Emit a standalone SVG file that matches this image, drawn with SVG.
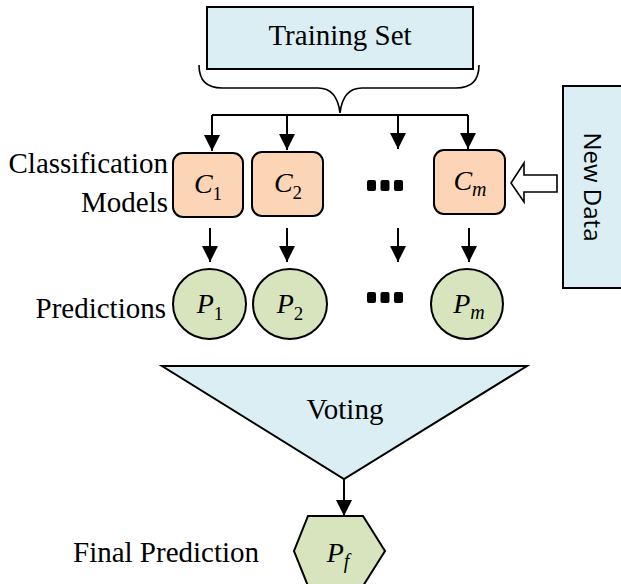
<svg xmlns="http://www.w3.org/2000/svg" width="621" height="584" viewBox="0 0 621 584">
<defs>
<style>
.lbl{font-family:'Liberation Serif','Tinos','Times New Roman','Times','DejaVu Serif','Noto Serif',serif;font-size:29px;fill:#000}
.math{font-family:'Liberation Serif','Tinos','Times New Roman','Times','DejaVu Serif','Noto Serif',serif;font-size:28px;font-style:italic;fill:#000}
.sub{font-size:19px;font-style:normal}
.subi{font-size:20px;font-style:italic}
.blue{fill:#DBEEF4;stroke:#000;stroke-width:2}
.peach{fill:#FBD5B5;stroke:#000;stroke-width:2}
.green{fill:#D7E4BD;stroke:#000;stroke-width:2}
.ln{fill:none;stroke:#000;stroke-width:2}
.dot{fill:#000}
</style>
<marker id="ah" markerUnits="userSpaceOnUse" markerWidth="16" markerHeight="18" refX="16" refY="8" orient="auto" viewBox="0 0 16 16">
<path d="M0,0 L16,8 L0,16 Z" fill="#000"/>
</marker>
</defs>

<g id="training-set">
<rect class="blue" x="207" y="7" width="266" height="62"/>
<text class="lbl" x="340" y="45" text-anchor="middle">Training Set</text>
</g>

<g id="brace">
<path class="ln" style="stroke-width:1.6" d="M199,65 C199,80 207,88 222,88 L318,88 C331,88 338,96 340,113 C342,96 349,88 362,88 L456,88 C471,88 479,80 479,65"/>
</g>

<g id="label-classification">
<text class="lbl" x="168" y="173" text-anchor="end">Classification</text>
<text class="lbl" x="168" y="212" text-anchor="end">Models</text>
</g>

<g id="c1">
<rect class="peach" x="173" y="153" width="70" height="64" rx="10"/>
<text class="math" x="208" y="193" text-anchor="middle">C<tspan class="sub" dy="7">1</tspan></text>
</g>
<g id="c2">
<rect class="peach" x="252" y="152" width="71" height="64" rx="10"/>
<text class="math" x="288" y="192" text-anchor="middle">C<tspan class="sub" dy="7">2</tspan></text>
</g>
<g id="c-dots">
<rect class="dot" x="367" y="180" width="9" height="11" rx="2"/>
<rect class="dot" x="380.5" y="180" width="9" height="11" rx="2"/>
<rect class="dot" x="394" y="180" width="9" height="11" rx="2"/>
</g>
<g id="cm">
<rect class="peach" x="434" y="150" width="71" height="64" rx="10"/>
<text class="math" x="470" y="190" text-anchor="middle">C<tspan class="subi" dy="6">m</tspan></text>
</g>

<g id="new-data">
<rect class="blue" x="563" y="86" width="64" height="202"/>
<text transform="translate(592,187) rotate(90)" x="0" y="8" text-anchor="middle" style="font-family:'Open Sans','Liberation Sans',sans-serif;font-size:24px;fill:#000">New Data</text>
</g>

<g id="label-predictions">
<text class="lbl" x="166" y="318" text-anchor="end">Predictions</text>
</g>

<g id="p1">
<ellipse class="green" cx="209.5" cy="304" rx="36.5" ry="35"/>
<text class="math" x="210" y="313" text-anchor="middle">P<tspan class="sub" dy="7">1</tspan></text>
</g>
<g id="p2">
<ellipse class="green" cx="290" cy="304" rx="37" ry="35"/>
<text class="math" x="290" y="313" text-anchor="middle">P<tspan class="sub" dy="7">2</tspan></text>
</g>
<g id="p-dots">
<rect class="dot" x="367" y="292" width="9" height="11" rx="2"/>
<rect class="dot" x="380.5" y="292" width="9" height="11" rx="2"/>
<rect class="dot" x="394" y="292" width="9" height="11" rx="2"/>
</g>
<g id="pm">
<ellipse class="green" cx="467" cy="304" rx="36" ry="35"/>
<text class="math" x="469" y="313" text-anchor="middle">P<tspan class="subi" dy="6">m</tspan></text>
</g>

<g id="voting">
<polygon class="blue" points="162,366 527,366 344,479"/>
<text class="lbl" x="345" y="419" text-anchor="middle">Voting</text>
</g>

<g id="label-final">
<text class="lbl" x="73" y="562" text-anchor="start">Final Prediction</text>
</g>

<g id="pf">
<polygon class="green" points="308,516 363,516 385,551 363,586 308,586 294,551"/>
<text class="math" x="338" y="562" text-anchor="middle">P<tspan class="subi" dy="6">f</tspan></text>
</g>

<g id="connectors">
<path class="ln" d="M212,115 L468,115"/>
<path class="ln" d="M212,115 L212,151" marker-end="url(#ah)"/>
<path class="ln" d="M287,115 L287,150" marker-end="url(#ah)"/>
<path class="ln" d="M398,115 L398,149" marker-end="url(#ah)"/>
<path class="ln" d="M468,115 L468,149" marker-end="url(#ah)"/>
<path class="ln" d="M210,228 L210,262" marker-end="url(#ah)"/>
<path class="ln" d="M287,228 L287,262" marker-end="url(#ah)"/>
<path class="ln" d="M398,228 L398,262" marker-end="url(#ah)"/>
<path class="ln" d="M469,228 L469,262" marker-end="url(#ah)"/>
<path class="ln" d="M344,479 L344,516" marker-end="url(#ah)"/>
<polygon fill="#fff" stroke="#000" stroke-width="1.6" points="511,183 524,163 524,175 557,175 557,192 524,192 524,202"/>
</g>
</svg>
